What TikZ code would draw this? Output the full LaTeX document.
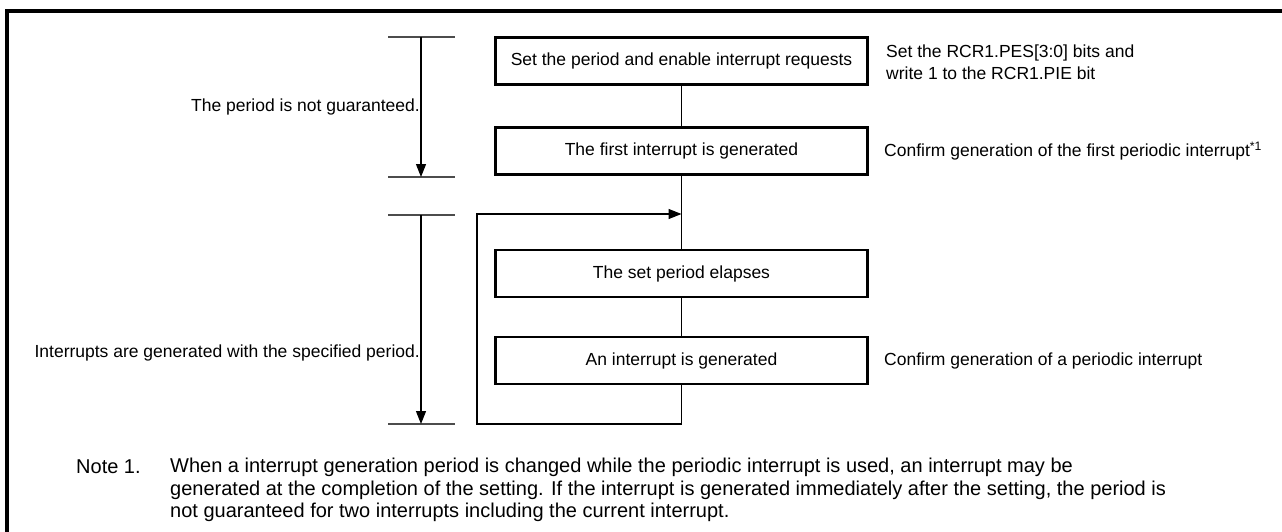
\documentclass[tikz,border=0pt]{standalone}
\usepackage{fontspec}
\setmainfont{Liberation Sans}
\usetikzlibrary{arrows.meta}
\begin{document}
\begin{tikzpicture}[x=1pt,y=-1pt,
  every node/.style={font=\fontsize{17.5}{20}\selectfont},
  notetext/.style={inner sep=0pt,font=\fontsize{20}{22}\selectfont},
  stepbox/.style={draw,line width=2.2pt,minimum width=372pt,minimum height=47pt,inner sep=0pt},
  lbl/.style={inner sep=0pt},
  flow/.style={line width=1.1pt},
  tick/.style={line width=1.1pt,black!70},
  tip/.style={-{Triangle[length=13pt,width=10pt]}}]
\useasboundingbox (0,0) rectangle (1282,532);
% frame
\draw[line width=3.5pt] (7,532) -- (7,11) -- (1282,11);
% boxes
\node[stepbox] (b1) at (681.5,61) {Set the period and enable interrupt requests};
\node[stepbox] (b2) at (681.5,151) {The first interrupt is generated};
\node[stepbox] (b3) at (681.5,273.5) {The set period elapses};
\node[stepbox] (b4) at (681.5,360.5) {An interrupt is generated};
\draw[flow] (b1) -- (b2);
\draw[flow] (b2) -- (b3);
\draw[flow] (b3) -- (b4);
\coordinate (lb) at (681.5,424);
\coordinate (ll) at (477,424);
\coordinate (lt) at (477,214);
\coordinate (la) at (681.5,214);
\draw[flow,tip] (b4.south) -- (lb) -- (ll) -- (lt) -- (la);
% right notes
\node[lbl,anchor=west] (r1) at (886,53) {Set the RCR1.PES[3:0] bits and};
\node[lbl,anchor=west] (r2) at (886,73) {write 1 to the RCR1.PIE bit};
\node[lbl,anchor=west] (r3) at (884,151) {Confirm generation of the first periodic interrupt\textsuperscript{*1}};
\node[lbl,anchor=west] (r4) at (884,360.5) {Confirm generation of a periodic interrupt};
% left spans
\coordinate (t1a) at (388,37); \coordinate (t1b) at (455,37);
\coordinate (t2a) at (388,177); \coordinate (t2b) at (455,177);
\coordinate (t3a) at (388,215); \coordinate (t3b) at (455,215);
\coordinate (t4a) at (388,424); \coordinate (t4b) at (455,424);
\draw[tick] (t1a) -- (t1b);
\draw[tick] (t2a) -- (t2b);
\draw[tick] (t3a) -- (t3b);
\draw[tick] (t4a) -- (t4b);
\coordinate (a1s) at (421,37); \coordinate (a1e) at (421,177);
\coordinate (a2s) at (421,215); \coordinate (a2e) at (421,424);
\draw[flow,tip] (a1s) -- (a1e);
\draw[flow,tip] (a2s) -- (a2e);
\node[lbl,anchor=east] (l1) at (420,107) {The period is not guaranteed.};
\node[lbl,anchor=east] (l2) at (420,353) {Interrupts are generated with the specified period.};
% note
\node[notetext,anchor=west] (n0) at (76,467) {Note 1.};
\node[notetext,anchor=west] (n1) at (170,467) {When a interrupt generation period is changed while the periodic interrupt is used, an interrupt may be};
\node[notetext,anchor=west] (n2) at (170,490) {generated at the completion of the setting. If the interrupt is generated immediately after the setting, the period is};
\node[notetext,anchor=west] (n3) at (170,512) {not guaranteed for two interrupts including the current interrupt.};
\end{tikzpicture}
\end{document}
